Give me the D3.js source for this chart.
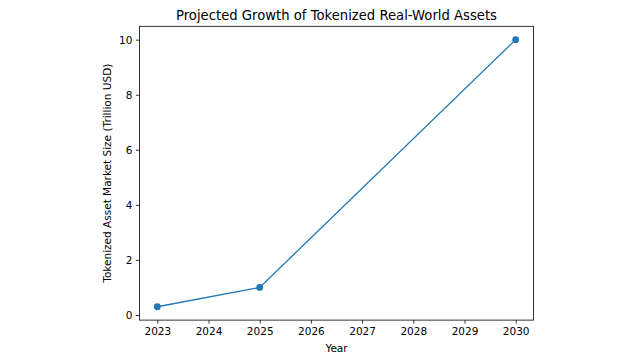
<!DOCTYPE html>
<html>
<head>
<meta charset="utf-8">
<script src="https://cdnjs.cloudflare.com/ajax/libs/d3/7.8.5/d3.min.js"></script>
<style>
  body { margin: 0; background: #fff; }
  svg { display: block; }
  text { font-family: "DejaVu Sans", sans-serif; fill: #000; }
</style>
</head>
<body>
<svg id="chart" width="636" height="362"></svg>
<script>
// data
var years = [2023, 2025, 2030];
var marketSize = [0.3, 1, 10];
var xTicks = [2023, 2024, 2025, 2026, 2027, 2028, 2029, 2030];
var yTicks = [0, 2, 4, 6, 8, 10];

var svg = d3.select("#chart");
var box = {left: 139.4, right: 533.6, top: 26.3, bottom: 320.1};

// matplotlib style 5% padding on both axes
var xPad = (d3.max(years) - d3.min(years)) * 0.05;
var yPad = (d3.max(marketSize) - d3.min(marketSize)) * 0.05;

var x = d3.scaleLinear()
    .domain([d3.min(years) - xPad, d3.max(years) + xPad])
    .range([box.left, box.right]);
var y = d3.scaleLinear()
    .domain([d3.min(marketSize) - yPad, d3.max(marketSize) + yPad])
    .range([box.bottom, box.top]);

var xAxis = svg.append("g")
    .attr("transform", "translate(0," + box.bottom + ")")
    .call(d3.axisBottom(x).tickValues(xTicks).tickFormat(d3.format("d")).tickSize(3.5).tickPadding(3.5));
var yAxis = svg.append("g")
    .attr("transform", "translate(" + box.left + ",0)")
    .call(d3.axisLeft(y).tickValues(yTicks).tickSize(3.5).tickPadding(3.5));

[xAxis, yAxis].forEach(function(g) {
    g.select(".domain").remove();
    g.selectAll("line").attr("stroke", "#000").attr("stroke-width", 0.8);
    g.selectAll("text").style("font-family", "DejaVu Sans, sans-serif").style("font-size", "10.5px").attr("fill", "#000");
});

// axes frame
svg.append("rect")
    .attr("x", box.left).attr("y", box.top)
    .attr("width", box.right - box.left).attr("height", box.bottom - box.top)
    .attr("fill", "none").attr("stroke", "#000").attr("stroke-width", 0.8);

var pts = years.map(function(d, i) { return [d, marketSize[i]]; });

svg.append("path")
    .datum(pts)
    .attr("fill", "none")
    .attr("stroke", "#1f77b4")
    .attr("stroke-width", 1.3)
    .attr("d", d3.line().x(function(d) { return x(d[0]); }).y(function(d) { return y(d[1]); }));

svg.selectAll("circle.pt")
    .data(pts).enter().append("circle")
    .attr("class", "pt")
    .attr("cx", function(d) { return x(d[0]); })
    .attr("cy", function(d) { return y(d[1]); })
    .attr("r", 3.4)
    .attr("fill", "#1f77b4");

svg.append("text")
    .attr("x", (box.left + box.right) / 2).attr("y", 19.5)
    .attr("text-anchor", "middle")
    .style("font-size", "13.2px")
    .text("Projected Growth of Tokenized Real-World Assets");

svg.append("text")
    .attr("x", (box.left + box.right) / 2).attr("y", 352)
    .attr("text-anchor", "middle")
    .style("font-size", "10.5px")
    .text("Year");

svg.append("text")
    .attr("transform", "translate(111," + (box.top + box.bottom) / 2 + ") rotate(-90)")
    .attr("text-anchor", "middle")
    .style("font-size", "10.5px")
    .text("Tokenized Asset Market Size (Trillion USD)");
</script>
</body>
</html>
